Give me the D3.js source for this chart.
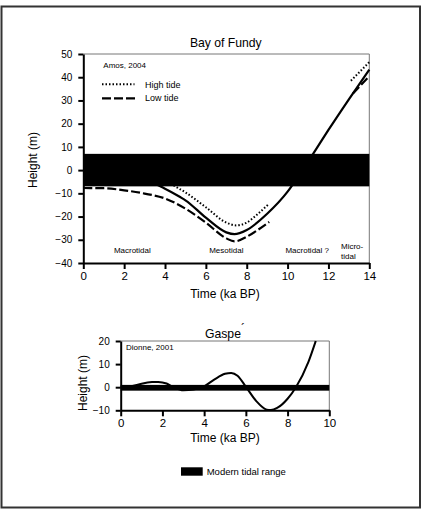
<!DOCTYPE html>
<html><head><meta charset="utf-8">
<script src="https://cdn.jsdelivr.net/npm/d3@7"></script>
<style>body{margin:0;background:#fff}svg{font-family:"Liberation Sans",Arial,sans-serif}</style>
</head><body><svg id="c" width="424" height="510"></svg>
<script>
// ---- Bay of Fundy data (Amos, 2004) ----
const fundyXTicks = [0,2,4,6,8,10,12,14];
const fundyYTicks = [50,40,30,20,10,0,-10,-20,-30,-40];
const fundyBand = [-7, 7];
const fundyMid = [[0,-3],[2,-4],[3.5,-6],[4,-8],[4.74,-11.6],[5,-13],[6,-20.5],[7,-26.8],[7.4,-27.6],[8,-25.8],[9,-18.8],[10,-9.3],[10.5,-3],[11.25,7],[12,17.3],[13,30.5],[14,43.3]];
const fundyHigh1 = [[4,-4],[4.5,-7],[5,-9.6],[6,-16],[7,-22.6],[7.5,-23.8],[8,-22.6],[8.5,-19.2],[9.1,-14.4]];
const fundyHigh2 = [[13.1,38.5],[14,46.5]];
const fundyLow1 = [[0,-7.7],[1,-7.8],[2,-8.7],[3,-10.1],[4,-12.2],[5,-16.6],[6,-22.6],[7,-29.4],[7.4,-30.7],[8,-28.7],[8.5,-26],[9.1,-22.3]];
const fundyLow2 = [[13.2,33],[14,40.5]];
const fundyLabels = [["Macrotidal",2.4],["Mesotidal",7.0],["Macrotidal ?",10.96]];

// ---- Gaspe data (Dionne, 2001) ----
const gaspeXTicks = [0,2,4,6,8,10];
const gaspeYTicks = [20,10,0,-10];
const gaspeBand = [-1.5, 1];
const gaspeCurve = [[0,0],[0.5,0.4],[1,1.5],[1.5,2.2],[1.8,2.3],[2.2,1.6],[2.5,0.2],[3,-1.3],[3.5,-1],[4,0.4],[4.5,3.4],[5,5.8],[5.3,6.2],[5.6,5],[6,0.2],[6.5,-6],[7,-9.7],[7.2,-9.9],[7.5,-9],[8,-5],[8.4,0],[9,11],[9.35,20]];

const svg = d3.select("#c");
svg.append("rect").attr("x",1.5).attr("y",6.5).attr("width",418.5).attr("height",501)
  .attr("fill","none").attr("stroke","#333").attr("stroke-width",2);

function panel(o){
  const x = d3.scaleLinear().domain(o.xd).range(o.xr);
  const y = d3.scaleLinear().domain(o.yd).range(o.yr);
  const g = svg.append("g");
  g.append("path").attr("d",`M${o.xr[0]},${o.yr[1]}H${o.xr[1]}V${o.yr[0]}`)
    .attr("fill","none").attr("stroke","#777").attr("stroke-width",1);
  const line = d3.line().x(d=>x(d[0])).y(d=>y(d[1])).curve(d3.curveMonotoneX);
  o.series.forEach(s=>{
    g.append("path").datum(s.d).attr("d",line).attr("fill","none")
      .attr("stroke","#000").attr("stroke-width",s.w||2)
      .attr("stroke-dasharray",s.dash||null);
  });
  g.append("rect").attr("x",x(o.xd[0])).attr("width",x(o.xd[1])-x(o.xd[0]))
    .attr("y",y(o.band[1])).attr("height",y(o.band[0])-y(o.band[1])).attr("fill","#000");
  const ax = g.append("g").attr("transform",`translate(0,${o.yr[0]})`)
    .call(d3.axisBottom(x).tickValues(o.xt).tickSize(6).tickSizeOuter(0).tickPadding(3));
  ax.select(".domain").attr("stroke-width",2);
  ax.selectAll(".tick line").attr("stroke-width",2);
  ax.selectAll("text").attr("font-size",11.5).attr("font-family","Liberation Sans, Arial");
  const ay = g.append("g").attr("transform",`translate(${o.xr[0]},0)`)
    .call(d3.axisLeft(y).tickValues(o.yt).tickSize(5).tickSizeOuter(0).tickPadding(6));
  ay.select(".domain").attr("stroke-width",2);
  ay.selectAll(".tick line").attr("stroke-width",2);
  ay.selectAll("text").attr("font-size",10).attr("font-family","Liberation Sans, Arial");
  return {x,y,g};
}

const fundyPanel = panel({xd:[0,14],xr:[83.3,369.3],yd:[-40,50],yr:[263,54],
  xt:fundyXTicks,yt:fundyYTicks,band:fundyBand,
  series:[{d:fundyMid,w:2.2},{d:fundyHigh1,w:2,dash:"1.5,2"},{d:fundyHigh2,w:2,dash:"1.5,2"},
          {d:fundyLow1,w:2.2,dash:"9,3"},{d:fundyLow2,w:2.2,dash:"9,3"}]});

svg.append("text").attr("x",225.8).attr("y",46.5).attr("text-anchor","middle").attr("font-size",12.2).text("Bay of Fundy");
svg.append("text").attr("x",225).attr("y",298).attr("text-anchor","middle").attr("font-size",12).text("Time (ka BP)");
svg.append("text").attr("transform","translate(37,160) rotate(-90)").attr("text-anchor","middle").attr("font-size",12).text("Height (m)");
svg.append("text").attr("x",103.3).attr("y",68.3).attr("font-size",8).text("Amos, 2004");
svg.append("line").attr("x1",102).attr("x2",134.5).attr("y1",84.3).attr("y2",84.3).attr("stroke","#000").attr("stroke-width",2).attr("stroke-dasharray","1.5,2");
svg.append("text").attr("x",145).attr("y",87.5).attr("font-size",9).text("High tide");
svg.append("line").attr("x1",102).attr("x2",135.5).attr("y1",98.3).attr("y2",98.3).attr("stroke","#000").attr("stroke-width",2.2).attr("stroke-dasharray","9,3");
svg.append("text").attr("x",145).attr("y",101).attr("font-size",9).text("Low tide");
fundyLabels.forEach(l=>{
  svg.append("text").attr("x",fundyPanel.x(l[1])).attr("y",253.3).attr("text-anchor","middle").attr("font-size",8).text(l[0]);
});
svg.append("text").attr("x",341).attr("y",249).attr("font-size",8).text("Micro-");
svg.append("text").attr("x",341).attr("y",258.7).attr("font-size",8).text("tidal");

const gaspePanel = panel({xd:[0,10],xr:[120.7,329.3],yd:[-10,20],yr:[410.3,341],
  xt:gaspeXTicks,yt:gaspeYTicks,band:gaspeBand,
  series:[{d:gaspeCurve,w:2}]});
const gt = svg.append("text").attr("x",205).attr("y",338).attr("font-size",12.2);
gt.append("tspan").text("Gaspe");
gt.append("tspan").attr("dy",-5).attr("font-size",12).text("´");
svg.append("text").attr("x",225).attr("y",441.5).attr("text-anchor","middle").attr("font-size",12).text("Time (ka BP)");
svg.append("text").attr("transform","translate(87,383) rotate(-90)").attr("text-anchor","middle").attr("font-size",12).text("Height (m)");
svg.append("text").attr("x",126).attr("y",350).attr("font-size",8).text("Dionne, 2001");
svg.append("rect").attr("x",181).attr("y",467.3).attr("width",21.7).attr("height",8.4).attr("fill","#000");
svg.append("text").attr("x",206.7).attr("y",475).attr("font-size",9.5).text("Modern tidal range");
</script></body></html>
